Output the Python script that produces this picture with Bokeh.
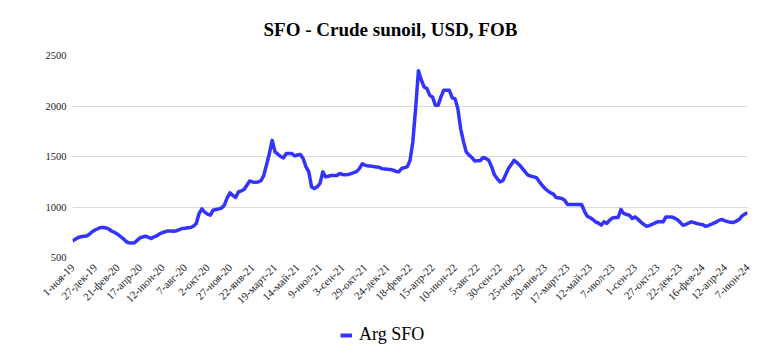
from bokeh.plotting import figure
from bokeh.models import Range1d, FixedTicker, Legend, LegendItem
from bokeh.layouts import column
from bokeh.embed import file_html
from bokeh.resources import INLINE
import math

title_text = "SFO - Crude sunoil, USD, FOB"
series_name = "Arg SFO"

# labels every 8 weeks (weekly Friday data starting 1 Nov 2019)
tick_labels = ["1-ноя-19", "27-дек-19", "21-фев-20", "17-апр-20", "12-июн-20", "7-авг-20",
               "2-окт-20", "27-ноя-20", "22-янв-21", "19-март-21", "14-май-21", "9-июл-21",
               "3-сен-21", "29-окт-21", "24-дек-21", "18-фев-22", "15-апр-22", "10-июн-22",
               "5-авг-22", "30-сен-22", "25-ноя-22", "20-янв-23", "17-март-23", "12-май-23",
               "7-июл-23", "1-сен-23", "27-окт-23", "22-дек-23", "16-фев-24", "12-апр-24",
               "7-июн-24"]
label_step = 8

y_ticks = [500, 1000, 1500, 2000, 2500]

arg_sfo = [
    664, 680, 698, 706, 710, 712, 730, 755, 772, 785,
    797, 797, 793, 780, 760, 748, 731, 710, 688, 660,
    645, 643, 645, 670, 694, 705, 711, 700, 688, 705,
    715, 735, 747, 755, 763, 762, 760, 765, 775, 787,
    790, 795, 797, 810, 836, 936, 981, 950, 930, 919,
    968, 975, 981, 990, 1018, 1090, 1140, 1115, 1094, 1150,
    1160, 1173, 1215, 1258, 1248, 1245, 1248, 1260, 1312, 1420,
    1530, 1660, 1545, 1523, 1500, 1486, 1530, 1530, 1530, 1506,
    1515, 1520, 1480, 1400, 1348, 1199, 1183, 1200, 1233, 1348,
    1298, 1305, 1312, 1312, 1312, 1332, 1322, 1320, 1322, 1330,
    1340, 1350, 1380, 1427, 1415, 1407, 1405, 1400, 1397, 1394,
    1380, 1377, 1374, 1371, 1365, 1352, 1348, 1381, 1390, 1397,
    1460, 1644, 1975, 2350, 2260, 2189, 2173, 2107, 2090, 2008,
    2008, 2090, 2156, 2156, 2156, 2080, 2073, 1975, 1777, 1650,
    1545, 1513, 1490, 1456, 1458, 1460, 1490, 1480, 1463, 1400,
    1320, 1282, 1249, 1260, 1320, 1381, 1420, 1463, 1440, 1414,
    1380, 1345, 1315, 1305, 1298, 1290, 1249, 1215, 1183, 1160,
    1140, 1127, 1094, 1090, 1084, 1067, 1025, 1025, 1025, 1025,
    1025, 1025, 960, 909, 895, 876, 853, 840, 820, 853,
    837, 870, 891, 896, 896, 975, 936, 925, 919, 886,
    902, 880, 853, 830, 810, 815, 827, 840, 853, 853,
    853, 902, 902, 902, 890, 876, 850, 820, 827, 840,
    853, 845, 837, 830, 827, 810, 815, 827, 840, 853,
    870, 876, 863, 855, 848, 846, 860, 876, 910, 929,
    942,
]

weeks = list(range(len(arg_sfo)))
tick_pos = [i * label_step for i in range(len(tick_labels))]

SERIF = "Liberation Serif"
BLUE = "#3333FF"

p = figure(width=768, height=315, output_backend="svg", toolbar_location=None,
           x_range=Range1d(0, len(arg_sfo) - 1), y_range=Range1d(500, 2500),
           min_border_left=72, min_border_right=21, min_border_top=55, min_border_bottom=58)
p.outline_line_color = None
p.background_fill_color = "white"
p.border_fill_color = "white"

p.title.text = title_text
p.title.align = "left"
p.title.text_font = SERIF
p.title.text_font_size = "19px"
p.title.text_font_style = "bold"
p.title.text_color = "#000000"
p.title.standoff = 31
p.title.offset = 191

r = p.line(weeks, arg_sfo, line_color=BLUE, line_width=3.5, line_join="round")

p.xaxis.ticker = FixedTicker(ticks=tick_pos)
p.xaxis.major_label_overrides = {t: lab for t, lab in zip(tick_pos, tick_labels)}
p.xaxis.major_label_orientation = math.pi / 4
p.yaxis.ticker = FixedTicker(ticks=y_ticks)

for ax in (p.xaxis[0], p.yaxis[0]):
    ax.axis_line_color = None
    ax.major_tick_line_color = None
    ax.minor_tick_line_color = None
    ax.major_tick_out = 0
    ax.major_tick_in = 0
    ax.minor_tick_out = 0
    ax.minor_tick_in = 0
    ax.major_label_text_font = SERIF
    ax.major_label_text_color = "#222222"

p.xaxis.major_label_text_font_size = "11px"
p.xaxis.major_label_standoff = 8
p.yaxis.major_label_text_font_size = "10.5px"
p.yaxis.major_label_standoff = 6

p.xgrid.grid_line_color = None
p.ygrid.grid_line_color = "#d9d9d9"
p.ygrid.grid_line_width = 1

# legend strip below the chart
lf = figure(width=768, height=36, output_backend="svg", toolbar_location=None,
            x_range=Range1d(0, 1), y_range=Range1d(0, 1),
            x_axis_location=None, y_axis_location=None,
            min_border_left=0, min_border_right=0, min_border_top=0, min_border_bottom=0)
lf.outline_line_color = None
lf.xgrid.visible = False
lf.ygrid.visible = False
lr = lf.line([5, 6], [5, 6], line_color=BLUE, line_width=4)
legend = Legend(items=[LegendItem(label=series_name, renderers=[lr])],
                orientation="horizontal", location=(268, 6))
legend.label_text_font = SERIF
legend.label_text_font_size = "18px"
legend.label_text_color = "#000000"
legend.glyph_width = 12
legend.glyph_height = 18
legend.border_line_color = None
legend.background_fill_alpha = 0
legend.padding = 4
legend.margin = 0
legend.label_standoff = 7
lf.add_layout(legend)

layout = column(p, lf, spacing=0)

open("out.html", "w").write(file_html(layout, INLINE))
